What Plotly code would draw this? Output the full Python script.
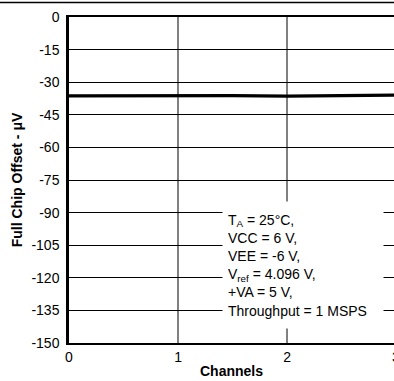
import plotly.graph_objects as go

# Data
channels = [0, 0.5, 1, 1.5, 2, 2.5, 3]
offset_uv = [-36.3, -36.2, -36.1, -36.2, -36.4, -36.3, -35.9]
y_ticks = [0, -15, -30, -45, -60, -75, -90, -105, -120, -135, -150]
x_ticks = [0, 1, 2]
cond_text = ("T<sub>A</sub> = 25°C,<br>VCC = 6 V,<br>VEE = -6 V,<br>"
             "V<sub>ref</sub> = 4.096 V,<br>+VA = 5 V,<br>Throughput = 1 MSPS")

W, H = 394, 381
PL, PR, PT, PB = 69, 394, 17, 343  # plot area in pixels
FONT = "Liberation Sans, Arial, sans-serif"

fig = go.Figure()
fig.add_trace(go.Scatter(x=channels, y=offset_uv, mode="lines",
                         line=dict(color="black", width=3.2),
                         showlegend=False, hoverinfo="skip"))

fig.update_layout(
    width=W, height=H,
    margin=dict(l=0, r=0, t=0, b=0, pad=0),
    paper_bgcolor="white", plot_bgcolor="white",
    font=dict(family=FONT, size=14, color="black"),
    xaxis=dict(domain=[PL / W, PR / W], anchor="y",
               range=[0, 2.98], tickvals=x_ticks, ticktext=[str(v) for v in x_ticks],
               showgrid=True, gridcolor="#808080", gridwidth=1.5,
               showline=True, linecolor="black", linewidth=2, mirror=True,
               zeroline=False, ticks="", ticklen=0,
               tickfont=dict(size=14, family=FONT),
               title=dict(text="<b>Channels</b>", font=dict(size=14, family=FONT), standoff=2),
               automargin=False),
    yaxis=dict(domain=[1 - PB / H, 1 - PT / H], anchor="x",
               range=[-150, 0], tickvals=y_ticks, ticktext=[str(v) for v in y_ticks],
               showgrid=True, gridcolor="black", gridwidth=1,
               showline=True, linecolor="black", linewidth=2.5,
               zeroline=False, ticks="outside", ticklen=4, tickcolor="white",
               tickfont=dict(size=14, family=FONT),
               title=dict(text="<b>Full Chip Offset - μV</b>", font=dict(size=14, family=FONT), standoff=6),
               automargin=False),
)

# Partially visible "3" tick label at the clipped right edge
fig.add_annotation(text="3", xref="paper", yref="paper",
                   x=396 / W, y=1 - 357 / H,
                   xanchor="center", yanchor="middle", showarrow=False,
                   font=dict(size=14, family=FONT))

# Conditions box
fig.add_annotation(text=cond_text, xref="paper", yref="paper",
                   x=222 / W, y=1 - 201 / H,
                   xanchor="left", yanchor="top", showarrow=False,
                   align="left", valign="middle",
                   width=150, height=116, borderpad=5,
                   bgcolor="white", font=dict(size=14, family=FONT))

# Thin page rule at the top (paper coordinates = whole figure here)
fig.add_shape(type="line", xref="paper", yref="paper",
              x0=0, x1=1, y0=1 - 2.5 / H, y1=1 - 2.5 / H,
              line=dict(color="black", width=1.5), layer="above")

fig.write_html("out.html", config={"displayModeBar": False},
               post_script="document.body.style.margin='0';document.body.style.overflow='hidden';")
